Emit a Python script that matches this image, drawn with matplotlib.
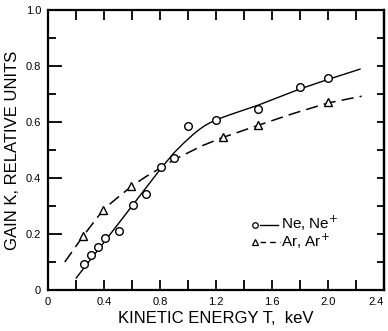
import matplotlib
matplotlib.use("Agg")
import matplotlib.pyplot as plt
from matplotlib.ticker import MultipleLocator, FixedLocator, NullFormatter

plt.rcParams['font.family'] = ['Liberation Sans', 'DejaVu Sans']

# Data points
ne_T = [0.26, 0.305, 0.36, 0.405, 0.507, 0.607, 0.70, 0.805, 0.90, 1.00, 1.20, 1.50, 1.80, 2.00]
ne_K = [0.092, 0.125, 0.152, 0.186, 0.211, 0.305, 0.342, 0.440, 0.472, 0.586, 0.608, 0.648, 0.724, 0.757]
ar_T = [0.247, 0.39, 0.593, 1.253, 1.50, 2.003]
ar_K = [0.194, 0.286, 0.373, 0.546, 0.589, 0.673]

# Hand-drawn fitted curves
ne_curve_T = [0.20, 0.50, 0.80, 0.90, 0.97, 1.04, 1.08, 1.12, 1.16, 1.20, 1.25, 1.30, 1.50, 1.80, 2.00, 2.23]
ne_curve_K = [0.042, 0.235, 0.430, 0.490, 0.525, 0.557, 0.573, 0.587, 0.598, 0.607, 0.617, 0.626, 0.660, 0.718, 0.752, 0.789]
ar_curve_T = [0.12, 0.25, 0.40, 0.60, 0.70, 0.80, 0.90, 1.00, 1.10, 1.25, 1.50, 1.75, 2.00, 2.24]
ar_curve_K = [0.100, 0.192, 0.290, 0.372, 0.405, 0.435, 0.465, 0.490, 0.515, 0.545, 0.588, 0.630, 0.668, 0.692]

x_ticklabels = ["0", "0.4", "0.8", "1.2", "1.6", "2.0", "2.4"]
y_ticklabels = ["0", "0.2", "0.4", "0.6", "0.8", "1.0"]

fig = plt.figure(figsize=(3.88, 3.31), dpi=100)
ax = fig.add_axes([48/388, 1-290/331, 336/388, 280/331])

ax.plot(ne_curve_T, ne_curve_K, color='black', lw=1.0, solid_capstyle='round')
ax.plot(ar_curve_T, ar_curve_K, color='black', lw=1.1, dashes=(8, 4))
ax.plot(ne_T, ne_K, linestyle='none', marker='o', ms=5.5, mfc='white', mec='black', mew=1.0)
ax.plot(ar_T, ar_K, linestyle='none', marker='^', ms=5.5, mfc='white', mec='black', mew=1.0)

ax.set_xlim(0, 2.4)
ax.set_ylim(0, 1.0)

ax.xaxis.set_major_locator(FixedLocator([0, 0.4, 0.8, 1.2, 1.6, 2.0, 2.4]))
ax.set_xticklabels(x_ticklabels)
ax.xaxis.set_minor_locator(MultipleLocator(0.2))
ax.yaxis.set_major_locator(FixedLocator([0, 0.2, 0.4, 0.6, 0.8, 1.0]))
ax.set_yticklabels(y_ticklabels)
ax.yaxis.set_minor_locator(MultipleLocator(0.1))

ax.tick_params(axis='x', which='both', direction='in', top=True, bottom=True,
               length=7, width=1.3, labelsize=8, pad=5)
ax.tick_params(axis='y', which='major', direction='in', left=True, right=False,
               length=10, width=1.3, labelsize=8, pad=5)
ax.tick_params(axis='y', which='minor', direction='in', left=True, right=False,
               length=6, width=1.3)
for s in ax.spines.values():
    s.set_linewidth(1.6)

# keep the last x tick label inside the figure
last = ax.get_xticklabels()[-1]
last.set_horizontalalignment('right')
last.set_x(2.4)

# right-hand ticks: every 0.1, all the same short length
sec = ax.secondary_yaxis('right')
sec.yaxis.set_major_locator(MultipleLocator(0.1))
sec.yaxis.set_major_formatter(NullFormatter())
sec.tick_params(axis='y', direction='in', length=5, width=1.3)
sec.spines['right'].set_linewidth(1.6)

ax.set_xlabel("KINETIC ENERGY T,  keV", fontsize=12, labelpad=3)
ax.set_ylabel("GAIN K, RELATIVE UNITS", fontsize=12, labelpad=4)

# Legend drawn by hand (marker, line, text)
tr = ax.transAxes
def ax_x(px):
    return (px - 48) / 336
def ax_y(py):
    return (290 - py) / 280
ax.plot([ax_x(254.7)], [ax_y(225)], transform=tr, marker='o', ms=4, mfc='white', mec='black', mew=0.9, clip_on=False)
ax.plot([ax_x(260), ax_x(278)], [ax_y(225), ax_y(225)], transform=tr, color='black', lw=1.0)
ax.text(ax_x(281), ax_y(229), "Ne, Ne$^{+}$", transform=tr, fontsize=11, va='baseline', ha='left')
ax.plot([ax_x(254.7)], [ax_y(242)], transform=tr, marker='^', ms=4, mfc='white', mec='black', mew=0.9, clip_on=False)
ax.plot([ax_x(260), ax_x(280)], [ax_y(242), ax_y(242)], transform=tr, color='black', lw=1.0, dashes=(4, 3))
ax.text(ax_x(281), ax_y(247), "Ar, Ar$^{+}$", transform=tr, fontsize=11, va='baseline', ha='left')

fig.savefig("out.png", dpi=100)
